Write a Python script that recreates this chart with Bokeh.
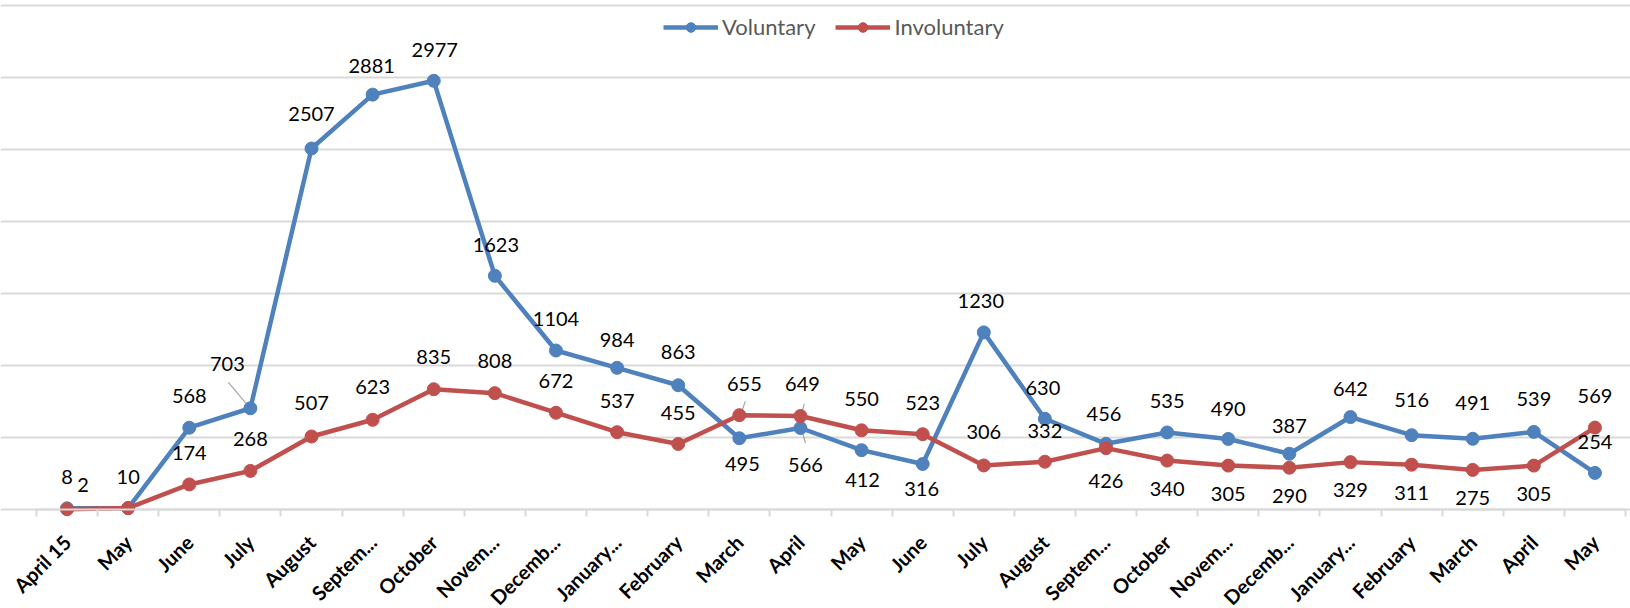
from bokeh.plotting import figure
from bokeh.models import ColumnDataSource, FixedTicker, Legend, LegendItem
from bokeh.embed import file_html
from bokeh.resources import INLINE
from bokeh.core.properties import value
import math

# ---------------- data ----------------
months = ["April 15", "May", "June", "July", "August", "Septem...", "October",
          "Novem...", "Decemb...", "January...", "February", "March", "April",
          "May", "June", "July", "August", "Septem...", "October", "Novem...",
          "Decemb...", "January...", "February", "March", "April", "May"]
voluntary = [8, 10, 568, 703, 2507, 2881, 2977, 1623, 1104, 984, 863, 495, 566,
             412, 316, 1230, 630, 456, 535, 490, 387, 642, 516, 491, 539, 254]
involuntary = [2, 10, 174, 268, 507, 623, 835, 808, 672, 537, 455, 655, 649,
               550, 523, 306, 332, 426, 340, 305, 290, 329, 311, 275, 305, 569]
grid_values = [0, 500, 1000, 1500, 2000, 2500, 3000, 3500]

# ---------------- style: label offsets (screen px) ----------------
vol_dx = [0, 0, 0, -23, 0, -1, 1, 1, 0, 0, 0, 3, 5, 1, -1, -3, -2, -2, 0, 0, 0, 0, 0, 0, 0, 0]
vol_dy = [-31, -31, -32, -44, -34, -29, -31, -31, -32, -28, -33, 26, 37, 30, 25,
          -31, -31, -30, -31, -30, -28, -28, -35, -36, -33, -31]
inv_dx = [16, 0, 0, 0, 0, 0, 0, 0, 0, 0, 0, 5, 2, 0, 0, 0, 0, 0, 0, 0, 0, 0, 0, 0, 0, 0]
inv_dy = [-24, -31, -31, -32, -33, -33, -32, -32, -32, -31, -31, -31, -32, -31, -31,
          -33, -31, 33, 28, 28, 28, 28, 28, 28, 28, -32]

BLUE = "#4F81BD"
RED = "#C0504D"
GRID = "#D9D9D9"
FONT = "Lato"

W, H = 1630, 608
# horizontal layout: category band from px 36 to 1625
X_LEFT_PX, X_RIGHT_PX = 36.0, 1625.0
x_scale = (X_RIGHT_PX - X_LEFT_PX) / 26.0           # px per category
X_START = -0.5 - X_LEFT_PX / x_scale
X_END = 25.5 + (W - X_RIGHT_PX) / x_scale
# vertical layout: zero line at px 509, top grid line (3500) at px 5
ZERO_PX, TOP_PX = 509.0, 5.0
y_scale = (ZERO_PX - TOP_PX) / 3500.0               # px per unit
Y_END = ZERO_PX / y_scale
Y_START = -(H - ZERO_PX) / y_scale

x = list(range(len(months)))

p = figure(width=W, height=H, output_backend="svg", toolbar_location=None,
           x_range=(X_START, X_END), y_range=(Y_START, Y_END),
           min_border_left=0, min_border_right=0, min_border_top=0,
           min_border_bottom=0)
p.outline_line_color = None
p.background_fill_color = "white"
p.border_fill_color = "white"

p.yaxis.visible = False
p.xgrid.grid_line_color = None
p.ygrid.ticker = FixedTicker(ticks=grid_values)
p.ygrid.grid_line_color = GRID
p.ygrid.grid_line_width = 2
p.ygrid.bounds = (0, 3500)

ax = p.xaxis[0]
ax.fixed_location = 0
ax.bounds = (-0.5, 25.5)
ax.ticker = FixedTicker(ticks=x, minor_ticks=[i - 0.5 for i in range(27)])
ax.major_label_overrides = {i: m for i, m in enumerate(months)}
ax.major_label_orientation = math.pi / 4
ax.major_tick_line_color = None
ax.major_tick_out = 0
ax.major_tick_in = 0
ax.minor_tick_line_color = GRID
ax.minor_tick_line_width = 2
ax.minor_tick_out = 7
ax.minor_tick_in = 0
ax.axis_line_color = GRID
ax.axis_line_width = 2
ax.major_label_text_font = FONT
ax.major_label_text_font_style = "bold"
ax.major_label_text_font_size = "20px"
ax.major_label_text_color = "#000000"
ax.major_label_standoff = 22

vol_txt = [str(v) for v in voluntary]
inv_txt = [("" if (involuntary[i] == voluntary[i] and inv_dx[i] == vol_dx[i]
                   and inv_dy[i] == vol_dy[i]) else str(v))
           for i, v in enumerate(involuntary)]

src = ColumnDataSource(dict(x=x, vol=voluntary, inv=involuntary,
                            vol_txt=vol_txt, inv_txt=inv_txt,
                            vdx=vol_dx, vdy=vol_dy, idx=inv_dx, idy=inv_dy))

# leader lines (pixel offsets relative to the data point, converted to data units)
leaders = [  # (series, index, start dx, start dy, end dx, end dy) in px
    ("vol", 3, -22, -26, -1, -1),
    ("inv", 11, 6, -14, 2, -2),
    ("inv", 12, 4, -12, 0, 0),
    ("vol", 12, 1, 1, 5, 15),
]
lx0, ly0, lx1, ly1 = [], [], [], []
for s, i, sx, sy, ex, ey in leaders:
    v = voluntary[i] if s == "vol" else involuntary[i]
    lx0.append(i + sx / x_scale); ly0.append(v - sy / y_scale)
    lx1.append(i + ex / x_scale); ly1.append(v - ey / y_scale)
p.segment(x0=lx0, y0=ly0, x1=lx1, y1=ly1, line_color="#A6A6A6", line_width=1.2)

l1 = p.line("x", "vol", source=src, line_color=BLUE, line_width=4.5, line_join="round")
c1 = p.scatter("x", "vol", source=src, size=13, fill_color=BLUE, line_color=BLUE)
l2 = p.line("x", "inv", source=src, line_color=RED, line_width=4.5, line_join="round")
c2 = p.scatter("x", "inv", source=src, size=13, fill_color=RED, line_color=RED)

p.text("x", "vol", text="vol_txt", source=src, x_offset="vdx", y_offset="vdy",
       text_align="center", text_baseline="middle", text_font=value(FONT),
       text_font_size="20px", text_color="#000000")
p.text("x", "inv", text="inv_txt", source=src, x_offset="idx", y_offset="idy",
       text_align="center", text_baseline="middle", text_font=value(FONT),
       text_font_size="20px", text_color="#000000")

LEG_X, LEG_TOP, LEG_H = 663, 16, 24
legend = Legend(items=[LegendItem(label="Voluntary", renderers=[l1, c1]),
                       LegendItem(label="Involuntary", renderers=[l2, c2])],
                location=(LEG_X, H - LEG_TOP - LEG_H), orientation="horizontal")
legend.background_fill_alpha = 0
legend.border_line_color = None
legend.padding = 0
legend.margin = 0
legend.spacing = 20
legend.glyph_width = 55
legend.glyph_height = LEG_H
legend.label_height = LEG_H
legend.label_standoff = 4
legend.label_text_font = FONT
legend.label_text_font_size = "22px"
legend.label_text_color = "#595959"
p.add_layout(legend, "center")

open("out.html", "w").write(file_html(p, INLINE))
